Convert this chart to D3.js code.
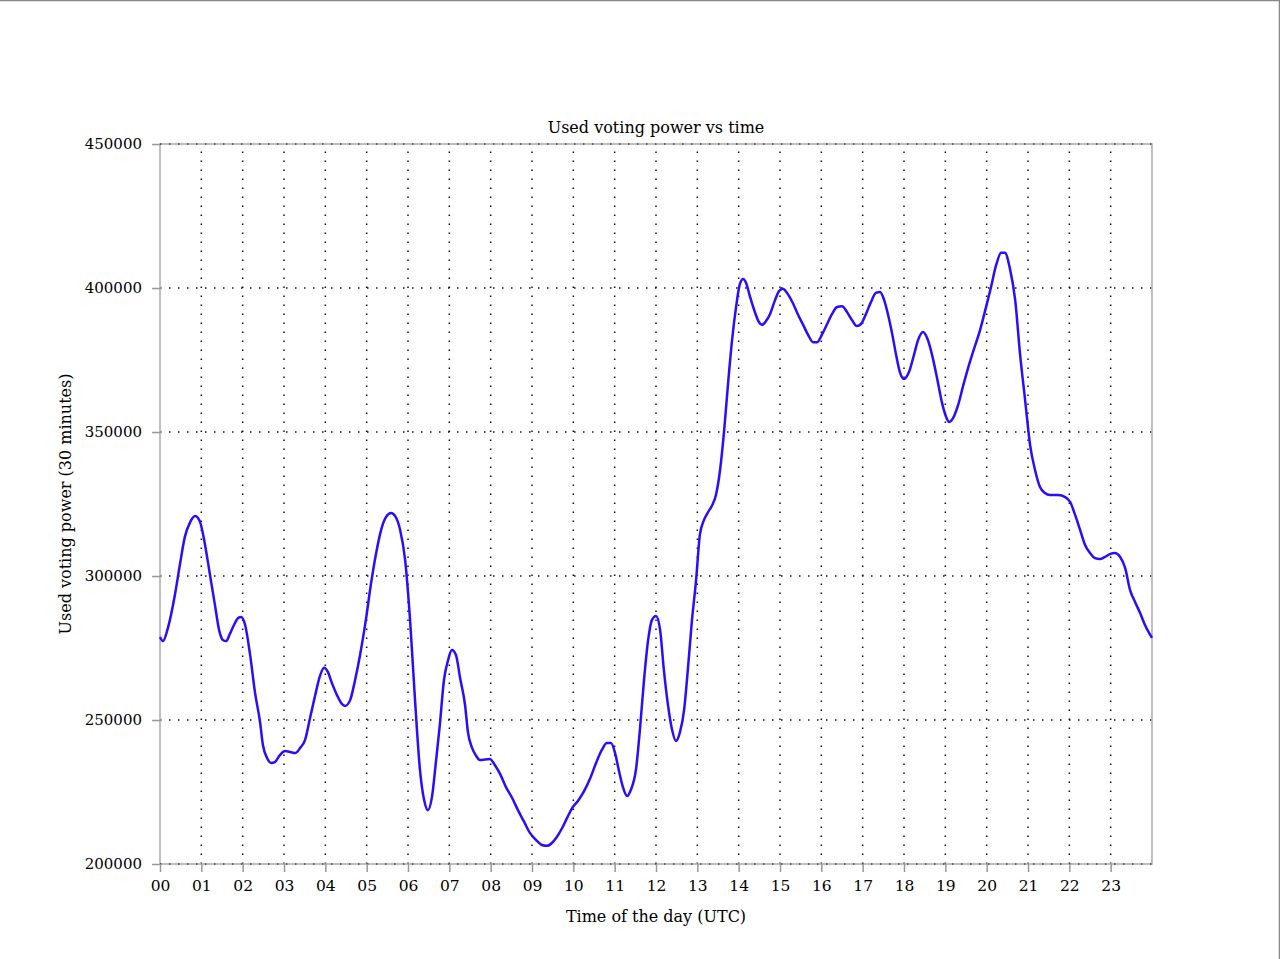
<!DOCTYPE html>
<html><head><meta charset="utf-8">
<script src="https://cdn.jsdelivr.net/npm/d3@7"></script>
<style>
html,body{margin:0;padding:0;background:#fff;}
svg{display:block;}
text{font-family:"DejaVu Serif","Liberation Serif",serif;fill:#000;}
</style></head>
<body>
<script>
const title = "Used voting power vs time";
const xLabel = "Time of the day (UTC)";
const yLabel = "Used voting power (30 minutes)";
const hourTicks = d3.range(0, 24);
const hourTickLabels = hourTicks.map(h => String(h).padStart(2, "0"));
const yTicks = [200000, 250000, 300000, 350000, 400000, 450000];
// time in hours (UTC)
const hours = [0,0.07,0.19,0.36,0.48,0.60,0.73,0.85,0.97,1.09,1.21,1.33,1.43,1.52,1.60,1.69,1.79,1.89,1.96,2.06,2.18,2.30,2.42,2.49,2.59,2.69,2.78,2.90,3.02,3.15,3.27,3.39,3.51,3.63,3.75,3.87,3.97,4.06,4.16,4.28,4.40,4.48,4.60,4.72,4.84,4.98,5.10,5.23,5.35,5.47,5.59,5.69,5.81,5.93,6.05,6.17,6.29,6.39,6.48,6.58,6.68,6.77,6.87,6.97,7.06,7.16,7.26,7.38,7.45,7.55,7.65,7.74,7.98,8.10,8.23,8.37,8.52,8.66,8.81,8.95,9.10,9.24,9.36,9.48,9.60,9.73,9.85,9.97,10.11,10.26,10.40,10.55,10.69,10.81,10.91,11.01,11.10,11.20,11.30,11.39,11.52,11.61,11.71,11.81,11.90,12.00,12.10,12.19,12.29,12.39,12.48,12.58,12.68,12.77,12.87,12.97,13.06,13.16,13.26,13.35,13.45,13.55,13.65,13.74,13.84,13.94,14.03,14.11,14.18,14.27,14.40,14.49,14.56,14.66,14.76,14.88,14.98,15.07,15.17,15.31,15.44,15.56,15.68,15.80,15.90,16.02,16.14,16.26,16.38,16.50,16.62,16.74,16.86,16.96,17.08,17.20,17.32,17.42,17.52,17.61,17.71,17.81,17.90,18.00,18.12,18.24,18.34,18.46,18.56,18.68,18.80,18.92,19.02,19.09,19.19,19.31,19.43,19.55,19.67,19.84,19.98,20.10,20.23,20.35,20.44,20.56,20.69,20.81,20.93,21.05,21.17,21.29,21.41,21.53,21.73,21.90,22.02,22.14,22.26,22.38,22.50,22.62,22.74,22.86,22.98,23.10,23.23,23.35,23.47,23.59,23.71,23.83,24.0];
// used voting power
const power = [278800,277400,281900,293400,303800,313500,318700,320800,318700,310800,300300,289900,281200,277800,277400,279900,283000,285400,285800,283000,272600,259400,249300,241300,236800,235100,235400,237800,239200,238900,238500,240300,243100,250700,258300,265300,268100,266700,262800,258700,255600,254900,256900,263900,272600,284700,296900,308000,316000,320500,321900,320800,316000,305600,284700,256900,232600,222200,218700,223300,236100,248300,263900,270800,274300,272600,264600,255200,245800,240300,237500,236100,236500,234400,231200,226700,222900,218700,214600,210800,208300,206600,206300,207300,209400,212500,216000,219400,221900,225300,229500,235100,239600,242000,242000,238500,232600,226700,223600,225700,233300,246500,263900,277800,284700,286100,281200,267400,255200,246500,242700,245800,253500,267400,284700,298600,314200,319400,322200,324300,328100,336800,350700,366300,381900,393700,401400,403100,401700,397200,391300,388200,387200,388500,391000,395800,399000,399700,398300,394800,390600,387200,383700,381200,381200,384000,387500,391000,393400,393700,391700,388900,386800,387500,391000,395100,398300,398600,395800,391000,384400,376700,370800,368400,370800,376700,381900,384700,382600,376700,368700,360100,355200,353500,354900,359400,366000,372200,377800,385400,393100,400000,408000,412200,412200,406900,395800,376700,361100,345500,336800,330900,328800,328100,328100,327400,325700,321200,316000,310800,308000,306200,305900,306600,307600,308000,306600,302800,295100,291000,287200,283000,278500];

const W = 1280, H = 959;
const m = {left:160, right:1152, top:144, bottom:864};
const svg = d3.select("body").append("svg").attr("width", W).attr("height", H);

// page frame lines (top and right edges)
svg.append("line").attr("x1",0).attr("x2",W).attr("y1",0.5).attr("y2",0.5).attr("stroke","#888").attr("stroke-width",1.5);
svg.append("line").attr("x1",W-0.5).attr("x2",W-0.5).attr("y1",0).attr("y2",H).attr("stroke","#888").attr("stroke-width",1.5);

const x = d3.scaleLinear().domain([0,24]).range([m.left, m.right]);
const y = d3.scaleLinear().domain([200000,450000]).range([m.bottom, m.top]);

const gridColor = "#111";
const dash = "1.5,7.5";
// vertical grid
svg.append("g").selectAll("line").data(hourTicks.slice(1)).join("line")
  .attr("x1", d => x(d)).attr("x2", d => x(d))
  .attr("y1", m.bottom).attr("y2", m.top)
  .attr("stroke", gridColor).attr("stroke-width", 1.5).attr("stroke-dasharray", dash);
// horizontal grid
svg.append("g").selectAll("line").data(yTicks.slice(1, -1)).join("line")
  .attr("x1", m.left).attr("x2", m.right)
  .attr("y1", d => y(d)).attr("y2", d => y(d))
  .attr("stroke", gridColor).attr("stroke-width", 1.5).attr("stroke-dasharray", dash);

// frame
svg.append("rect").attr("x", m.left).attr("y", m.top)
  .attr("width", m.right - m.left).attr("height", m.bottom - m.top)
  .attr("fill", "none").attr("stroke", "#aaa").attr("stroke-width", 1.5);
// dotted overlay on top & bottom frame
[m.top, m.bottom].forEach(yy => {
  svg.append("line").attr("x1", m.left).attr("x2", m.right).attr("y1", yy).attr("y2", yy)
    .attr("stroke", gridColor).attr("stroke-width", 1.5).attr("stroke-dasharray", dash).attr("opacity",0.7);
});

// axes
const xAxis = d3.axisBottom(x).tickValues(hourTicks).tickFormat((d,i) => hourTickLabels[i]).tickSize(8).tickPadding(8);
const gx = svg.append("g").attr("transform", `translate(0,${m.bottom})`).call(xAxis);
const yAxis = d3.axisLeft(y).tickValues(yTicks).tickFormat(d3.format("d")).tickSize(8).tickPadding(10);
const gy = svg.append("g").attr("transform", `translate(${m.left},0)`).call(yAxis);
[gx, gy].forEach(g => {
  g.select(".domain").remove();
  g.selectAll(".tick line").attr("stroke", "#999").attr("stroke-width", 1.5);
  g.selectAll(".tick text").attr("font-family", "DejaVu Serif").attr("font-size", 15).attr("fill", "#000");
});
gx.selectAll(".tick text").attr("font-size", 15.5);

// line
const pts = hours.map((h, i) => [h, power[i]]);
const line = d3.line().x(d => x(d[0])).y(d => y(d[1])).curve(d3.curveMonotoneX);
svg.append("path").datum(pts).attr("d", line)
  .attr("fill", "none").attr("stroke", "#2a0cff").attr("stroke-width", 2.5)
  .attr("stroke-linejoin", "round");

// titles
svg.append("text").attr("x", 656).attr("y", 133)
  .attr("text-anchor", "middle").attr("font-size", 16).text(title);
svg.append("text").attr("x", 656).attr("y", 922)
  .attr("text-anchor", "middle").attr("font-size", 16).text(xLabel);
svg.append("text").attr("transform", `translate(71,504) rotate(-90)`)
  .attr("text-anchor", "middle").attr("font-size", 16).text(yLabel);
</script>
</body></html>
